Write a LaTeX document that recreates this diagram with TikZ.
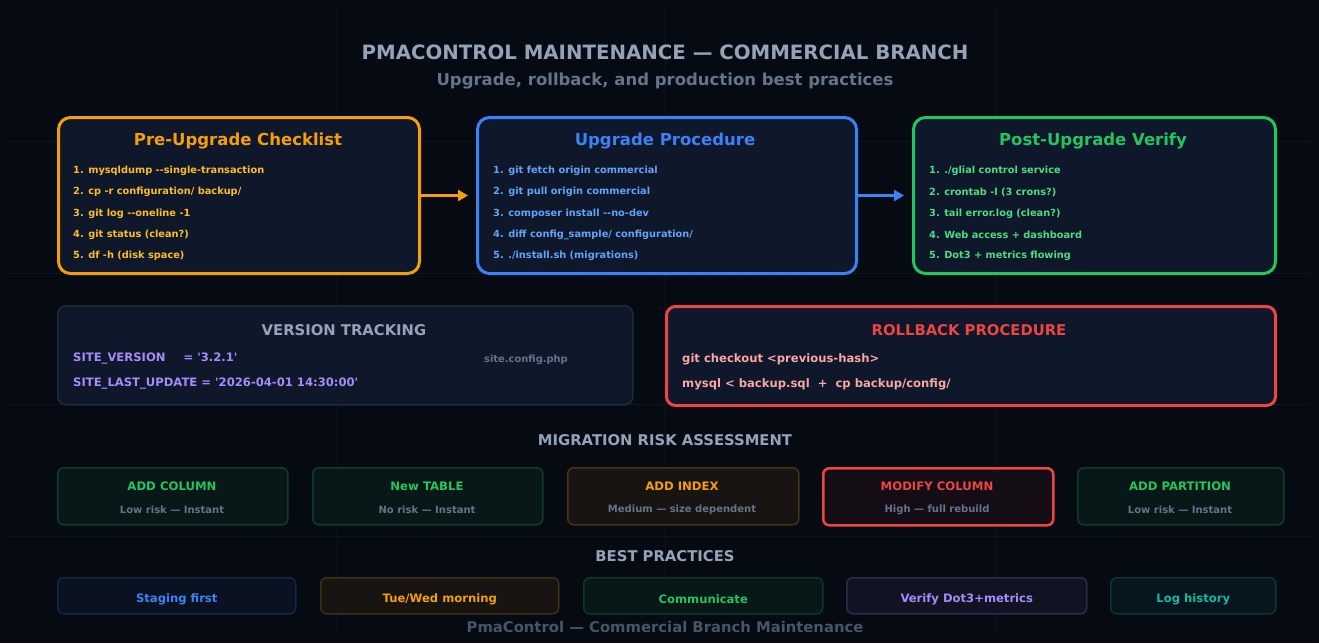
\documentclass[tikz,border=0pt]{standalone}
\usepackage{fontspec}
\setmainfont{DejaVu Sans}[Ligatures=TeXOff]
\usetikzlibrary{arrows.meta}
\definecolor{bg}{HTML}{060A12}
\definecolor{gridc}{HTML}{0E1420}
\definecolor{boxfill}{HTML}{0F172A}
\definecolor{boxline}{HTML}{1E293B}
\definecolor{orng}{HTML}{F59E0B}
\definecolor{blu}{HTML}{3B82F6}
\definecolor{grn}{HTML}{22C55E}
\definecolor{orngl}{HTML}{FBBF24}
\definecolor{blul}{HTML}{60A5FA}
\definecolor{grnl}{HTML}{4ADE80}
\definecolor{rd}{HTML}{EF4444}
\definecolor{purp}{HTML}{A78BFA}
\definecolor{teal}{HTML}{14B8A6}
\definecolor{pink}{HTML}{FCA5A5}
\definecolor{slate}{HTML}{94A3B8}
\definecolor{slated}{HTML}{64748B}
\definecolor{slatef}{HTML}{475569}
\newcommand\fs[1]{\fontsize{#1}{#1}\selectfont}
\newcommand\sq{\char"0027\relax}
\tikzset{
  bigbox/.style={draw=#1, line width=3pt, fill=boxfill, rounded corners=12pt, anchor=north west, inner sep=0pt},
  boxtitle/.style={text=#1, font=\bfseries\fs{16.5}, inner sep=0pt},
  item/.style={text=#1, font=\bfseries\fs{9.8}, anchor=west, inner sep=0pt},
  codeline/.style={text=#1, font=\bfseries\fs{11.6}, anchor=west, inner sep=0pt},
  sectitle/.style={text=slate, font=\bfseries\fs{14.8}, inner sep=0pt},
  riskbox/.style={draw=#1!28!bg, line width=1.5pt, fill=#1!7!bg, rounded corners=6pt, anchor=north west, inner sep=0pt, minimum height=57pt},
  risktitle/.style={text=#1, font=\bfseries\fs{11.7}, inner sep=0pt},
  risksub/.style={text=slated, font=\bfseries\fs{10}, inner sep=0pt},
  pracbox/.style={draw=#1!25!bg, line width=1.5pt, fill=#1!7!bg, rounded corners=6pt, anchor=north west, inner sep=0pt, minimum height=36pt},
  practext/.style={text=#1, font=\bfseries\fs{11.6}, inner sep=0pt},
  flow/.style={draw=#1, line width=2.5pt, -{Triangle[length=10pt,width=11pt]}, shorten >=8pt},
}
\begin{document}
\begin{tikzpicture}[x=1pt,y=-1pt]
\useasboundingbox (0,0) rectangle (1319,643);
\fill[bg] (0,0) rectangle (1319,643);
% faint grid
\foreach \gx in {337,665,995} \draw[gridc, line width=1pt] (\gx,9) -- (\gx,634);
\foreach \gy in {141,273,404,536} \draw[gridc, line width=1pt] (8,\gy) -- (1311,\gy);

% titles
\node[text=slate, font=\bfseries\fs{19.75}, inner sep=0pt] (title) at (665,52) {PMACONTROL MAINTENANCE — COMMERCIAL BRANCH};
\node[text=slated, font=\bfseries\fs{16.5}, inner sep=0pt] (subtitle) at (665,81) {Upgrade, rollback, and production best practices};

% three main boxes
\node[bigbox=orng, minimum width=361pt, minimum height=156pt] (pre) at (57,116) {};
\node[bigbox=blu, minimum width=379pt, minimum height=156pt] (upg) at (476,116) {};
\node[bigbox=grn, minimum width=362pt, minimum height=156pt] (post) at (912,116) {};

\node[boxtitle=orng] (pret) at (238,141) {Pre-Upgrade Checklist};
\node[item=orngl] (pre1) at (73,171) {1. mysqldump --single-transaction};
\node[item=orngl] (pre2) at (73,192) {2. cp -r configuration/ backup/};
\node[item=orngl] (pre3) at (73,214) {3. git log --oneline -1};
\node[item=orngl] (pre4) at (73,235) {4. git status (clean?)};
\node[item=orngl] (pre5) at (73,256) {5. df -h (disk space)};

\node[boxtitle=blu] (upgt) at (665,141) {Upgrade Procedure};
\node[item=blul] (upg1) at (493,171) {1. git fetch origin commercial};
\node[item=blul] (upg2) at (493,192) {2. git pull origin commercial};
\node[item=blul] (upg3) at (493,214) {3. composer install --no-dev};
\node[item=blul] (upg4) at (493,235) {4. diff config\_sample/ configuration/};
\node[item=blul] (upg5) at (493,256) {5. ./install.sh (migrations)};

\node[boxtitle=grn] (postt) at (1093,141) {Post-Upgrade Verify};
\node[item=grnl] (post1) at (929,171) {1. ./glial control service};
\node[item=grnl] (post2) at (929,192) {2. crontab -l (3 crons?)};
\node[item=grnl] (post3) at (929,214) {3. tail error.log (clean?)};
\node[item=grnl] (post4) at (929,235) {4. Web access + dashboard};
\node[item=grnl] (post5) at (929,256) {5. Dot3 + metrics flowing};

\draw[flow=orng] (pre) -- (upg);
\draw[flow=blu] (upg) -- (post);

% version tracking
\node[draw=boxline, line width=1.5pt, fill=boxfill, rounded corners=8pt, anchor=north west, inner sep=0pt, minimum width=575pt, minimum height=99pt] (ver) at (57,305) {};
\node[sectitle] (vert) at (344,330) {VERSION TRACKING};
\node[codeline=purp] (ver1) at (73,359) {SITE\_VERSION\hspace{18pt}= \sq3.2.1\sq};
\node[codeline=purp] (ver2) at (73,384) {SITE\_LAST\_UPDATE = \sq2026-04-01 14:30:00\sq};
\node[item=slated, font=\bfseries\fs{9.9}] (verf) at (484,360) {site.config.php};

% rollback
\node[bigbox=rd, rounded corners=9pt, minimum width=609pt, minimum height=99pt] (rb) at (665,305) {};
\node[sectitle, text=rd] (rbt) at (969,330) {ROLLBACK PROCEDURE};
\node[codeline=pink] (rb1) at (682,359) {git checkout <previous-hash>};
\node[codeline=pink] (rb2) at (682,384) {mysql < backup.sql\ \ +\ \ cp backup/config/};

% migration risk
\node[sectitle] (migt) at (665,440) {MIGRATION RISK ASSESSMENT};
\node[riskbox=grn, minimum width=230pt] (r1) at (57,467) {};
\node[riskbox=grn, minimum width=230pt] (r2) at (312,467) {};
\node[riskbox=orng, minimum width=231pt] (r3) at (567,467) {};
\node[draw=rd, line width=2.5pt, fill=rd!6!bg, rounded corners=6pt, anchor=north west, inner sep=0pt, minimum height=57pt, minimum width=230pt] (r4) at (822,467) {};
\node[riskbox=grn, minimum width=206pt] (r5) at (1077,467) {};
\node[risktitle=grn] at (172,486.5) {ADD COLUMN};
\node[risksub] at (172,510) {Low risk — Instant};
\node[risktitle=grn] at (427,486.5) {New TABLE};
\node[risksub] at (427,510) {No risk — Instant};
\node[risktitle=orng] at (682,486.5) {ADD INDEX};
\node[risksub] at (682,510) {Medium — size dependent};
\node[risktitle=rd] at (937,486.5) {MODIFY COLUMN};
\node[risksub] at (937,510) {High — full rebuild};
\node[risktitle=grn] at (1180,486.5) {ADD PARTITION};
\node[risksub] at (1180,510) {Low risk — Instant};

% best practices
\node[sectitle] (bpt) at (665,556) {BEST PRACTICES};
\node[pracbox=blu, minimum width=238pt] (p1) at (57,577) {};
\node[pracbox=orng, minimum width=238pt] (p2) at (320,577) {};
\node[pracbox=grn, minimum width=239pt] (p3) at (583,577) {};
\node[pracbox=purp, minimum width=240pt] (p4) at (846,577) {};
\node[pracbox=teal, minimum width=165pt] (p5) at (1110,577) {};
\node[practext=blu] at ([yshift=-3.5pt]p1.center) {Staging first};
\node[practext=orng] at ([yshift=-3.5pt]p2.center) {Tue/Wed morning};
\node[practext=grn] at ([yshift=-3.5pt]p3.center) {Communicate};
\node[practext=purp] at ([yshift=-3.5pt]p4.center) {Verify Dot3+metrics};
\node[practext=teal] at ([yshift=-3.5pt]p5.center) {Log history};

\node[text=slatef, font=\bfseries\fs{14.8}, inner sep=0pt] (foot) at (665,626.5) {PmaControl — Commercial Branch Maintenance};
\end{tikzpicture}
\end{document}
